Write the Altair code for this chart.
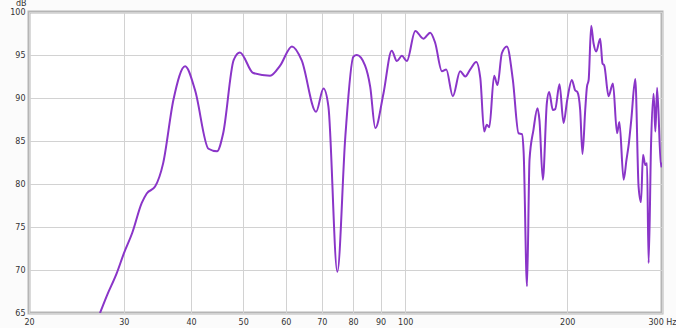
import altair as alt
import pandas as pd

freq = [27.1, 27.9, 29.1, 30.0, 31.1, 32.4, 33.1, 34.3, 35.5, 37.1, 39.0, 40.7, 43.1, 44.7, 45.9,
        48.0, 49.3, 52.2, 56.1, 58.6, 61.6, 64.2, 68.3, 70.5, 72.0, 74.8, 77.4, 80.1, 81.3, 84.2,
        86.1, 88.0, 91.1, 94.4, 96.5, 98.6, 100.7, 104.4, 108.1, 111.3, 113.7, 117.0, 119.2, 122.6,
        126.5, 129.3, 132.0, 135.5, 137.9, 140.2, 141.8, 143.3, 146.3, 148.4, 151.2, 154.5, 158.5,
        162.4, 164.8, 166.0, 168.4, 170.2, 173.1, 176.1, 177.6, 180.2, 183.3, 185.1, 188.1, 190.0,
        193.5, 196.9, 199.9, 204.0, 206.9, 208.9, 211.4, 213.5, 216.0, 217.6, 219.2, 221.6, 223.8,
        226.4, 230.3, 232.6, 234.3, 238.7, 243.2, 247.5, 250.0, 254.6, 257.7, 260.3, 263.0, 267.6,
        271.4, 274.2, 276.6, 279.3, 281.4, 283.3, 286.3, 289.4, 291.6, 293.8, 298.7, 300.0]
db = [65.0, 67.0, 69.6, 71.9, 74.3, 77.8, 78.9, 79.7, 82.4, 89.8, 93.7, 90.9, 84.1, 83.8, 85.9,
      94.4, 95.3, 92.9, 92.6, 93.8, 96.0, 94.4, 88.4, 91.1, 89.0, 69.8, 85.5, 94.8, 95.0, 93.8,
      91.3, 86.5, 90.5, 95.5, 94.3, 94.9, 94.3, 97.8, 96.9, 97.6, 96.4, 93.1, 93.3, 90.2,
      93.1, 92.5, 93.3, 94.2, 92.3, 86.1, 86.9, 86.6, 92.6, 91.5, 95.2, 96.0, 92.1,
      85.9, 85.8, 83.6, 68.1, 82.8, 86.3, 88.8, 87.4, 80.5, 89.4, 90.7, 88.6, 88.7,
      91.6, 87.1, 89.7, 92.1, 90.9, 90.7, 88.6, 83.5, 88.6, 91.3, 92.1, 98.4, 96.4,
      95.4, 96.9, 94.0, 93.8, 90.2, 91.7, 85.9, 87.2, 80.5, 82.8, 84.7, 87.4, 92.2,
      79.7, 77.9, 83.4, 82.2, 82.4, 70.8, 84.7, 90.5, 86.1, 91.2, 82.0, 82.5]

x_ticks = [20, 30, 40, 50, 60, 70, 80, 90, 100, 200, 300]
y_ticks = [65, 70, 75, 80, 85, 90, 95, 100]

df = pd.DataFrame({"freq": freq, "db": db})

chart = alt.Chart(df).mark_line(
    color="#8a35c8", strokeWidth=2, interpolate="monotone", clip=True
).encode(
    x=alt.X("freq:Q", scale=alt.Scale(type="log", domain=[20, 300], nice=False),
            axis=alt.Axis(values=x_ticks, title=None, grid=True, ticks=False, domain=False,
                          labelExpr="datum.value == 300 ? '300 Hz' : datum.label",
                          format="d", labelFlush=False, labelPadding=5)),
    y=alt.Y("db:Q", scale=alt.Scale(domain=[65, 100], nice=False, zero=False),
            axis=alt.Axis(values=y_ticks, title="dB", titleAngle=0, titleX=-3, titleY=-5,
                          titleAlign="right", titleBaseline="bottom",
                          grid=True, ticks=False, domain=False, labelPadding=4,
                          titleFontSize=8, titleFontWeight="normal",
                          titleColor="#333333"))
).properties(
    width=633, height=301,
    autosize=alt.AutoSizeParams(type="none"),
    padding={"left": 29, "top": 12, "right": 14, "bottom": 15},
    background="#fbfbfb"
).configure_axis(
    gridColor="#d2d2d2", gridWidth=1, labelColor="#333333", labelFont="DejaVu Sans",
    titleFont="DejaVu Sans", labelFontSize=8
).configure_view(
    stroke="#b5b5b5", strokeWidth=3, fill="white"
)

chart.save("out.html", embed_options={"renderer": "svg", "actions": False})
